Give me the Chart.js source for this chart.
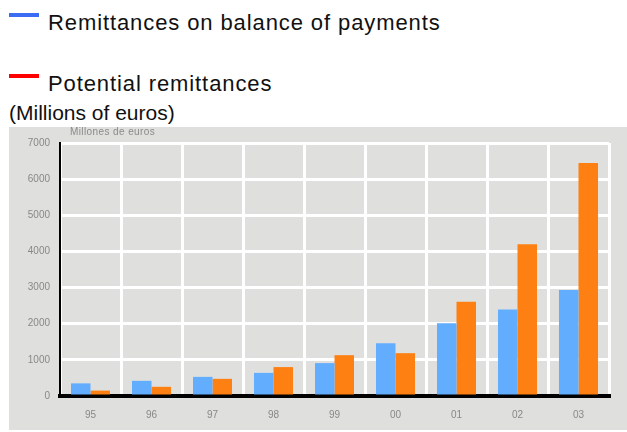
<!DOCTYPE html>
<html>
<head>
<meta charset="utf-8">
<script src="https://cdn.jsdelivr.net/npm/chart.js@4.4.1/dist/chart.umd.min.js"></script>
<style>
  body { margin: 0; background: #fff; width: 627px; height: 432px; position: relative; overflow: hidden; font-family: Arial, "Liberation Sans", sans-serif; }
  .key { position: absolute; left: 9px; width: 30px; height: 4px; }
  .lbl { position: absolute; left: 48px; font-size: 22px; letter-spacing: 0.9px; color: #111; white-space: nowrap; }
  #units { position: absolute; left: 9px; top: 101px; font-size: 21px; color: #111; white-space: nowrap; }
  #panel { position: absolute; left: 9px; top: 127px; width: 618px; height: 303px; background: #dfe0dd; }
  #sub { position: absolute; left: 70px; top: 126px; font-size: 10px; letter-spacing: 0.4px; color: #8a8a8a; white-space: nowrap; }
</style>
</head>
<body>
<div class="key" style="top:13px;background:#3a6cf4"></div>
<div class="lbl" style="top:10px">Remittances on balance of payments</div>
<div class="key" style="top:74px;background:#ff0000"></div>
<div class="lbl" style="top:71px">Potential remittances</div>
<div id="units">(Millions of euros)</div>
<canvas id="panel" width="618" height="303"></canvas>
<div id="sub">Millones de euros</div>
<script>
const years = ['95', '96', '97', '98', '99', '00', '01', '02', '03'];
const balanceOfPayments = [350, 420, 530, 640, 910, 1460, 2010, 2390, 2930];
const potential = [150, 255, 475, 800, 1130, 1185, 2610, 4200, 6450];
const yTicks = [0, 1000, 2000, 3000, 4000, 5000, 6000, 7000];

const ctx = document.getElementById('panel').getContext('2d');
new Chart(ctx, {
  type: 'bar',
  data: {
    labels: years,
    datasets: [
      { label: 'Remittances on balance of payments', data: balanceOfPayments, backgroundColor: '#63adff' },
      { label: 'Potential remittances', data: potential, backgroundColor: '#ff8012' }
    ]
  },
  options: {
    responsive: false,
    animation: false,
    layout: { padding: { top: 14, right: 18, left: 0, bottom: 0 } },
    categoryPercentage: 0.64,
    barPercentage: 1,
    plugins: { legend: { display: false }, tooltip: { enabled: false } },
    scales: {
      x: {
        offset: true,
        grid: { color: '#ffffff', lineWidth: 3, offset: true, drawTicks: false },
        border: { color: '#000', width: 4 },
        ticks: { color: '#888', font: { size: 10, family: 'Arial' }, padding: 13 },
        afterFit: s => { s.height = 34; }
      },
      y: {
        min: 0,
        max: 7000,
        afterBuildTicks: s => { s.ticks = yTicks.map(v => ({ value: v })); },
        grid: { color: '#ffffff', lineWidth: 3, drawTicks: false },
        border: { color: '#000', width: 2 },
        ticks: { color: '#888', font: { size: 10, family: 'Arial' }, padding: 10, callback: v => String(v) },
        afterFit: s => { s.width = 51; }
      }
    }
  }
});
</script>
</body>
</html>
